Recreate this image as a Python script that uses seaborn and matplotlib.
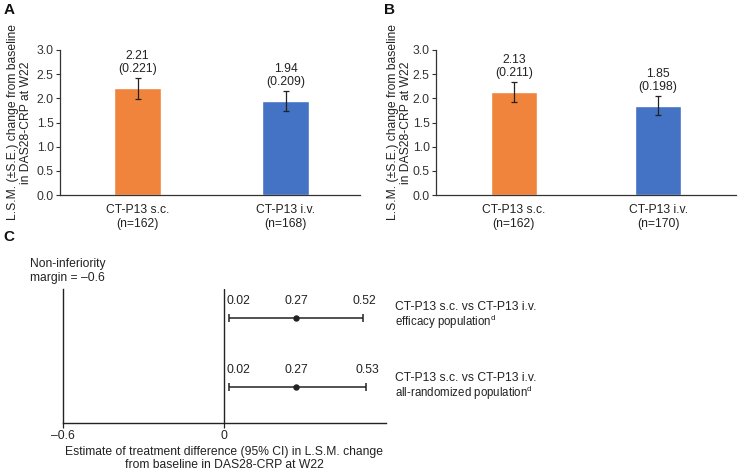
import matplotlib
matplotlib.use("Agg")
import matplotlib.pyplot as plt
import seaborn as sns
import pandas as pd

# ---------------- data ----------------
groups_a = ["CT-P13 s.c.\n(n=162)", "CT-P13 i.v.\n(n=168)"]
lsm_a = [2.21, 1.94]
se_a = [0.221, 0.209]

groups_b = ["CT-P13 s.c.\n(n=162)", "CT-P13 i.v.\n(n=170)"]
lsm_b = [2.13, 1.85]
se_b = [0.211, 0.198]

bar_colors = ["#F0843C", "#4472C4"]
bar_yticks = [0.0, 0.5, 1.0, 1.5, 2.0, 2.5, 3.0]

comp_line1 = ["CT-P13 s.c. vs CT-P13 i.v.", "CT-P13 s.c. vs CT-P13 i.v."]
comp_line2 = ["efficacy population", "all-randomized population"]
estimate = [0.27, 0.27]
ci_low = [0.02, 0.02]
ci_high = [0.52, 0.53]
c_ticks = [-0.6, 0.0]
c_ticklabels = ["\u20130.6", "0"]

# ---------------- style ----------------
sns.set_style("white")
plt.rcParams["font.family"] = ["Liberation Sans", "DejaVu Sans"]
plt.rcParams["mathtext.fontset"] = "custom"
plt.rcParams["mathtext.rm"] = "Liberation Sans"
plt.rcParams["mathtext.it"] = "Liberation Sans:italic"
FS = 8.7
TXT = "#222222"
TICK = "#333333"
plt.rcParams["font.size"] = FS
plt.rcParams["text.color"] = TXT
plt.rcParams["axes.labelcolor"] = TXT
plt.rcParams["xtick.color"] = TXT
plt.rcParams["ytick.color"] = TICK

W, H = 739, 472
fig = plt.figure(figsize=(W / 100, H / 100), dpi=100)


def px_axes(x0, x1, y0, y1):
    return fig.add_axes([x0 / W, 1 - y1 / H, (x1 - x0) / W, (y1 - y0) / H])


ylabel = "L.S.M. (\u00b1S.E.) change from baseline\nin DAS28-CRP at W22"


def bar_panel(ax, groups, lsm, se, xlim, label_x):
    df = pd.DataFrame({"group": groups, "lsm": lsm})
    sns.barplot(data=df, x="group", y="lsm", hue="group", palette=bar_colors,
                width=0.32, legend=False, errorbar=None, ax=ax, saturation=1)
    ax.errorbar(range(len(groups)), lsm, yerr=se, fmt="none", ecolor=TXT,
                elinewidth=0.9, capsize=2.2, capthick=0.9)
    for i, (v, s) in enumerate(zip(lsm, se)):
        ax.annotate(f"{v:.2f}\n({s:.3f})", xy=(i, v + s), xytext=(0, 2),
                    textcoords="offset points", ha="center", va="bottom",
                    fontsize=FS, color=TXT, linespacing=1.1)
    ax.set_ylim(0, 3.0)
    ax.set_yticks(bar_yticks)
    ax.set_yticklabels([f"{t:.1f}" for t in bar_yticks])
    ax.set_xlim(*xlim)
    ax.set_xlabel("")
    ax.set_ylabel(ylabel, fontsize=FS, linespacing=1.15)
    ax.yaxis.set_label_coords(label_x, 0.5)
    for sp in ["top", "right"]:
        ax.spines[sp].set_visible(False)
    for sp in ["left", "bottom"]:
        ax.spines[sp].set_color("#333333")
        ax.spines[sp].set_linewidth(0.9)
    ax.tick_params(axis="y", left=True, length=3, width=0.8, pad=1.5,
                   labelsize=FS, color="#333333")
    ax.tick_params(axis="x", bottom=False, pad=3, labelsize=FS)


axA = px_axes(60, 360, 50, 195)
bar_panel(axA, groups_a, lsm_a, se_a, (-0.524, 1.503), -0.093)
axB = px_axes(436, 736, 50, 195)
bar_panel(axB, groups_b, lsm_b, se_b, (-0.54, 1.54), -0.08)

# ---------------- panel C ----------------
axC = px_axes(63, 386, 289, 422.7)
rows = [1, 0]
for r, e, lo, hi in zip(rows, estimate, ci_low, ci_high):
    axC.errorbar([e], [r], xerr=[[e - lo], [hi - e]], fmt="o", color=TXT,
                 markersize=3.6, elinewidth=1.1, capsize=3, capthick=1.1)
    axC.annotate(f"{lo:.2f}", xy=(lo, r), xytext=(-2, 8),
                 textcoords="offset points", ha="left", va="bottom", fontsize=FS)
    axC.annotate(f"{e:.2f}", xy=(e, r), xytext=(0, 8),
                 textcoords="offset points", ha="center", va="bottom", fontsize=FS)
    axC.annotate(f"{hi:.2f}", xy=(hi, r), xytext=(1, 8),
                 textcoords="offset points", ha="center", va="bottom", fontsize=FS)
axC.axvline(0, color=TXT, linewidth=1.0)
axC.set_xlim(-0.6, 0.605)
axC.set_ylim(-0.522, 1.416)
axC.set_xticks(c_ticks)
axC.set_xticklabels(c_ticklabels)
axC.set_yticks([])
for sp in ["top", "right"]:
    axC.spines[sp].set_visible(False)
for sp in ["left", "bottom"]:
    axC.spines[sp].set_color("#222222")
    axC.spines[sp].set_linewidth(1.0)
axC.tick_params(axis="x", bottom=True, length=3.5, width=0.9, pad=1.5,
                labelsize=FS, color="#222222")
axC.set_xlabel("Estimate of treatment difference (95% CI) in L.S.M. change\n"
               "from baseline in DAS28-CRP at W22", fontsize=FS, labelpad=3,
               linespacing=1.1)

# comparison labels to the right
for r, l1, l2 in zip(rows, comp_line1, comp_line2):
    y1 = 307 if r == 1 else 378
    fig.text(395 / W, 1 - y1 / H, l1, ha="left", va="center", fontsize=FS)
    fig.text(395 / W, 1 - (y1 + 14.5) / H, l2 + r"$^{\mathrm{d}}$", ha="left",
             va="center", fontsize=FS - 0.4)

fig.text(30 / W, 1 - 264 / H, "Non-inferiority", ha="left", va="center", fontsize=FS)
fig.text(30 / W, 1 - 278 / H, "margin = \u20130.6", ha="left", va="center", fontsize=FS)

# panel letters
for letter, x, y in [("A", 4, 10), ("B", 384, 10), ("C", 3, 237)]:
    fig.text(x / W, 1 - y / H, letter, ha="left", va="center", fontsize=11,
             fontweight="bold", color="#111111")

fig.savefig("out.png", dpi=100)
